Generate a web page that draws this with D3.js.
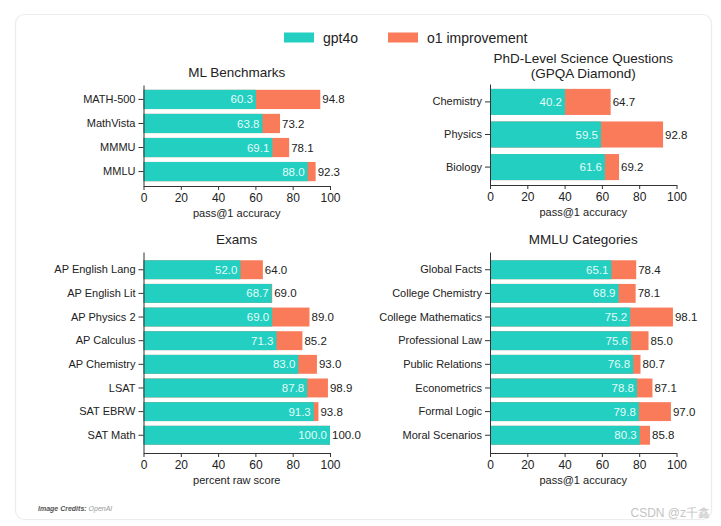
<!DOCTYPE html>
<html>
<head>
<meta charset="utf-8">
<script src="https://cdn.jsdelivr.net/npm/d3@7/dist/d3.min.js"></script>
<style>
  html, body { margin: 0; padding: 0; background: #fff; }
  svg { display: block; }
  text { font-family: "Liberation Sans", Arial, sans-serif; }
</style>
</head>
<body>
<svg id="chart" width="721" height="526"></svg>
<script>
// ---- data ----
const seriesNames = ["gpt4o", "o1 improvement"];

const mlCategories = ["MATH-500", "MathVista", "MMMU", "MMLU"];
const mlGpt4o = [60.3, 63.8, 69.1, 88.0];
const mlO1 = [94.8, 73.2, 78.1, 92.3];

const gpqaCategories = ["Chemistry", "Physics", "Biology"];
const gpqaGpt4o = [40.2, 59.5, 61.6];
const gpqaO1 = [64.7, 92.8, 69.2];

const examCategories = ["AP English Lang", "AP English Lit", "AP Physics 2", "AP Calculus", "AP Chemistry", "LSAT", "SAT EBRW", "SAT Math"];
const examGpt4o = [52.0, 68.7, 69.0, 71.3, 83.0, 87.8, 91.3, 100.0];
const examO1 = [64.0, 69.0, 89.0, 85.2, 93.0, 98.9, 93.8, 100.0];

const mmluCategories = ["Global Facts", "College Chemistry", "College Mathematics", "Professional Law", "Public Relations", "Econometrics", "Formal Logic", "Moral Scenarios"];
const mmluGpt4o = [65.1, 68.9, 75.2, 75.6, 76.8, 78.8, 79.8, 80.3];
const mmluO1 = [78.4, 78.1, 98.1, 85.0, 80.7, 87.1, 97.0, 85.8];

const xTicks = [0, 20, 40, 60, 80, 100];

// ---- styles ----
const TEAL = "#22cfc1";
const ORANGE = "#fa7b5a";
const INK = "#222";

const svg = d3.select("#chart");

// frame
svg.append("rect")
  .attr("x", 15.5).attr("y", 14.5).attr("width", 696).attr("height", 505)
  .attr("rx", 9).attr("fill", "none").attr("stroke", "#ececec").attr("stroke-width", 1.2);

// legend
const legend = svg.append("g");
const legItems = [
  {name: seriesNames[0], color: TEAL, x: 284, tx: 323},
  {name: seriesNames[1], color: ORANGE, x: 388, tx: 427}
];
legItems.forEach(d => {
  legend.append("rect").attr("x", d.x).attr("y", 32.5).attr("width", 30).attr("height", 10).attr("fill", d.color);
  legend.append("text").attr("x", d.tx).attr("y", 38).attr("dy", "0.35em")
    .attr("font-size", 14).attr("fill", INK).text(d.name);
});

function panel(opts) {
  const g = svg.append("g");
  const x = d3.scaleLinear().domain([0, 100]).range(opts.xr);
  const y = d3.scaleBand().domain(opts.cats).range(opts.yr).paddingInner(0.2).paddingOuter(opts.po);
  const rows = opts.cats.map((c, i) => ({c, a: opts.g[i], b: opts.o[i]}));

  // title
  const tx = (opts.xr[0] + opts.xr[1]) / 2;
  opts.title.forEach((t, i) => {
    g.append("text").attr("x", tx).attr("y", opts.titleY + i * 15).attr("dy", "0.35em")
      .attr("text-anchor", "middle").attr("font-size", 13.5).attr("fill", INK).text(t);
  });

  // bars
  g.selectAll(".o").data(rows).join("rect")
    .attr("x", d => x(0)).attr("y", d => y(d.c))
    .attr("width", d => x(d.b) - x(0)).attr("height", y.bandwidth())
    .attr("fill", ORANGE);
  g.selectAll(".t").data(rows).join("rect")
    .attr("x", d => x(0)).attr("y", d => y(d.c))
    .attr("width", d => x(d.a) - x(0)).attr("height", y.bandwidth())
    .attr("fill", TEAL);

  // value labels
  g.selectAll(".vi").data(rows).join("text")
    .attr("x", d => x(d.a) - 3).attr("y", d => y(d.c) + y.bandwidth() / 2).attr("dy", "0.35em")
    .attr("text-anchor", "end").attr("font-size", 11.5).attr("fill", "#e4fbf8")
    .text(d => d.a.toFixed(1));
  g.selectAll(".vo").data(rows).join("text")
    .attr("x", d => x(Math.max(d.a, d.b)) + 2).attr("y", d => y(d.c) + y.bandwidth() / 2).attr("dy", "0.35em")
    .attr("text-anchor", "start").attr("font-size", 11.5).attr("fill", INK)
    .text(d => d.b.toFixed(1));

  // axes
  const ya = g.append("g").attr("transform", `translate(${x(0)},0)`)
    .call(d3.axisLeft(y).tickSize(5).tickSizeOuter(0).tickPadding(3));
  ya.selectAll("text").attr("font-size", 11).attr("fill", INK);
  ya.selectAll("line,path").attr("stroke", "#333");

  const xa = g.append("g").attr("transform", `translate(0,${opts.yr[1]})`)
    .call(d3.axisBottom(x).tickValues(xTicks).tickSize(4).tickSizeOuter(0).tickPadding(3));
  xa.selectAll("text").attr("font-size", 12).attr("fill", INK);
  xa.selectAll("line,path").attr("stroke", "#333");

  g.append("text").attr("x", tx).attr("y", opts.yr[1] + 27).attr("dy", "0.35em")
    .attr("text-anchor", "middle").attr("font-size", 11).attr("fill", INK).text(opts.xlabel);
}

panel({cats: mlCategories, g: mlGpt4o, o: mlO1, xr: [143.5, 330], yr: [85, 186], po: 0.2,
  title: ["ML Benchmarks"], titleY: 72, xlabel: "pass@1 accuracy"});
panel({cats: gpqaCategories, g: gpqaGpt4o, o: gpqaO1, xr: [490, 676.5], yr: [84, 185], po: 0.15,
  title: ["PhD-Level Science Questions", "(GPQA Diamond)"], titleY: 58, xlabel: "pass@1 accuracy"});
panel({cats: examCategories, g: examGpt4o, o: examO1, xr: [143.5, 330], yr: [252, 453], po: 0.35,
  title: ["Exams"], titleY: 239, xlabel: "percent raw score"});
panel({cats: mmluCategories, g: mmluGpt4o, o: mmluO1, xr: [490, 676.5], yr: [252, 453], po: 0.35,
  title: ["MMLU Categories"], titleY: 239, xlabel: "pass@1 accuracy"});

// credits
const cr = svg.append("text").attr("x", 38).attr("y", 509).attr("dy", "0.35em").attr("font-size", 7);
cr.append("tspan").attr("font-weight", "bold").attr("font-style", "italic").attr("fill", "#555").text("Image Credits: ");
cr.append("tspan").attr("font-style", "italic").attr("fill", "#999").text("OpenAI");

// watermark
svg.append("text").attr("x", 710).attr("y", 513).attr("dy", "0.35em").attr("text-anchor", "end")
  .attr("font-size", 12).attr("fill", "#c4c4c4")
  .attr("font-family", "'Noto Sans CJK SC', 'Liberation Sans', sans-serif").text("CSDN @z千鑫");
</script>
</body>
</html>
